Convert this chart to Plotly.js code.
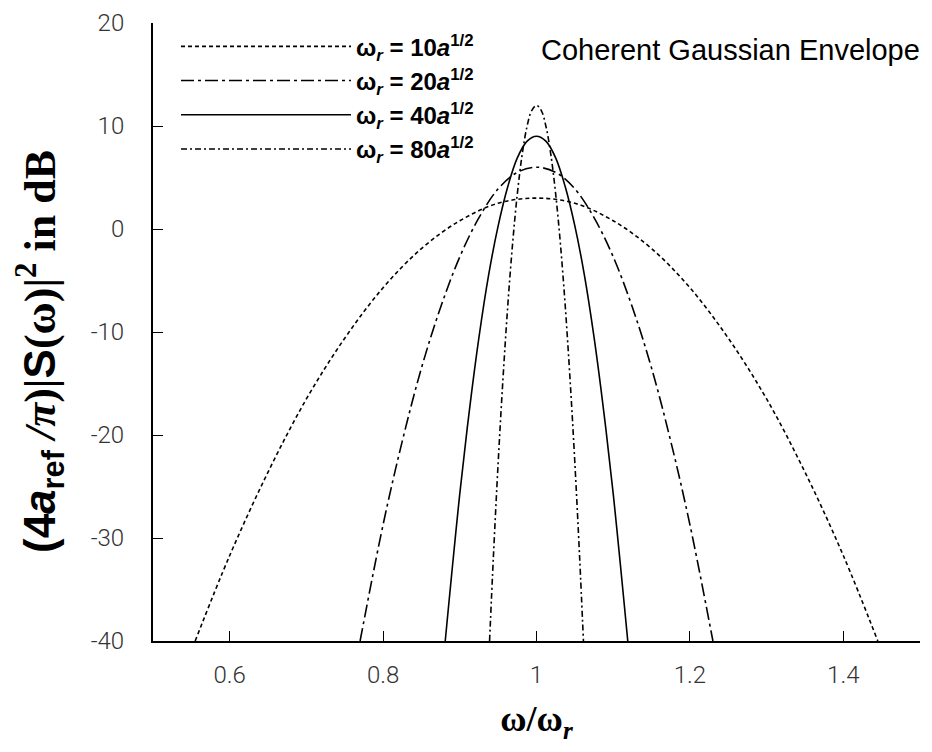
<!DOCTYPE html>
<html>
<head>
<meta charset="utf-8">
<script src="https://cdn.plot.ly/plotly-3.0.1.min.js"></script>
<style>html,body{margin:0;padding:0;background:#fff;}#chart{width:932px;height:752px;}</style>
</head>
<body>
<div id="chart"></div>
<script>
// omega/omega_r and spectral level (dB)
const x10 = [0.555, 0.6, 0.65, 0.7, 0.75, 0.8, 0.85, 0.9, 0.95, 1.0, 1.05, 1.1, 1.15, 1.2, 1.25, 1.3, 1.35, 1.4, 1.445];
const y10 = [-40, -31.7, -23.6, -16.5, -10.6, -5.7, -1.9, 0.8, 2.5, 3.0, 2.5, 0.8, -1.9, -5.7, -10.6, -16.5, -23.6, -31.7, -40];

const x20 = [0.77, 0.8, 0.825, 0.85, 0.875, 0.9, 0.925, 0.95, 0.975, 1.0, 1.025, 1.05, 1.075, 1.1, 1.125, 1.15, 1.175, 1.2, 1.23];
const y20 = [-40, -28.7, -20.6, -13.5, -7.6, -2.7, 1.1, 3.9, 5.5, 6.0, 5.5, 3.9, 1.1, -2.7, -7.6, -13.5, -20.6, -28.7, -40];

const x40 = [0.881, 0.9, 0.9125, 0.925, 0.9375, 0.95, 0.9625, 0.975, 0.9875, 1.0, 1.0125, 1.025, 1.0375, 1.05, 1.0625, 1.075, 1.0875, 1.1, 1.119];
const y40 = [-40, -25.7, -17.6, -10.5, -4.5, 0.3, 4.1, 6.9, 8.5, 9.0, 8.5, 6.9, 4.1, 0.3, -4.5, -10.5, -17.6, -25.7, -40];

const x80 = [0.9388, 0.94375, 0.95, 0.95625, 0.9625, 0.96875, 0.975, 0.98125, 0.9875, 0.99375, 1.0, 1.00625, 1.0125, 1.01875, 1.025, 1.03125, 1.0375, 1.04375, 1.05, 1.05625, 1.0612];
const y80 = [-40, -31.9, -22.7, -14.6, -7.5, -1.5, 3.4, 7.2, 9.9, 11.5, 12.0, 11.5, 9.9, 7.2, 3.4, -1.5, -7.5, -14.6, -22.7, -31.9, -40];

const seriesNames = [
  '<b>ω<sub><i>r</i></sub> = 10<i>a</i><sup>1/2</sup></b>',
  '<b>ω<sub><i>r</i></sub> = 20<i>a</i><sup>1/2</sup></b>',
  '<b>ω<sub><i>r</i></sub> = 40<i>a</i><sup>1/2</sup></b>',
  '<b>ω<sub><i>r</i></sub> = 80<i>a</i><sup>1/2</sup></b>'
];
const xTicks = [0.6, 0.8, 1.0, 1.2, 1.4];
const xTickText = ['0.6', '0.8', '1', '1.2', '1.4'];
const yTicks = [-40, -30, -20, -10, 0, 10, 20];
const yTickText = ['-40', '-30', '-20', '-10', '0', '10', '20'];

const dashes = ['4px,3px', '13px,4px,3px,4px', 'solid', '6px,3px,2px,3px'];
const xs = [x10, x20, x40, x80];
const ys = [y10, y20, y40, y80];

const traces = xs.map((xv, i) => ({
  x: xv, y: ys[i], type: 'scatter', mode: 'lines', name: seriesNames[i],
  line: {color: '#000', width: 1.6, dash: dashes[i], shape: 'spline', smoothing: 1},
  hoverinfo: 'skip'
}));

const tickFont = {family: 'Roboto, Liberation Sans, sans-serif', size: 24, color: '#333', weight: 300};

const layout = {
  width: 932, height: 752,
  margin: {l: 153, r: 12, t: 23, b: 111},
  paper_bgcolor: '#fff', plot_bgcolor: '#fff',
  showlegend: true,
  legend: {
    x: 0.03, y: 0.998, xanchor: 'left', yanchor: 'top',
    bgcolor: 'rgba(0,0,0,0)', itemwidth: 170,
    font: {family: 'Liberation Sans, Arial, sans-serif', size: 24, color: '#000'},
    tracegroupgap: 0
  },
  xaxis: {
    range: [0.5, 1.5], tickvals: xTicks, ticktext: xTickText,
    ticks: 'inside', ticklen: 10, tickwidth: 1, tickcolor: '#000',
    showline: true, linewidth: 2, linecolor: '#000', showgrid: false, zeroline: false,
    tickfont: tickFont,
    ticklabelstandoff: 11,
    title: {text: '<b>ω/ω<sub><i>r</i></sub></b>', font: {family: 'Liberation Serif, Times New Roman, serif', size: 36, color: '#000'}, standoff: 18}
  },
  yaxis: {
    range: [-40, 20], tickvals: yTicks, ticktext: yTickText,
    ticks: 'inside', ticklen: 10, tickwidth: 1, tickcolor: '#000',
    showline: true, linewidth: 2, linecolor: '#000', showgrid: false, zeroline: false,
    tickfont: tickFont,
    ticklabelstandoff: 22
  },
  annotations: [{
    xref: 'paper', yref: 'paper', x: 1.003, y: 0.956, xanchor: 'right', yanchor: 'middle',
    text: 'Coherent Gaussian Envelope', showarrow: false,
    font: {family: 'Liberation Sans, Arial, sans-serif', size: 29, color: '#000'}
  }, {
    xref: 'paper', yref: 'paper', x: -0.147, y: 0.468, xanchor: 'center', yanchor: 'middle',
    textangle: -90, showarrow: false,
    text: '<b><span style="font-family:Liberation Sans">(4<i>a</i><sub>ref</sub></span> <i>/π</i>)|<span style="font-family:Liberation Sans">S</span>(ω)|<sup>2</sup> in dB</b>',
    font: {family: 'Liberation Serif, Times New Roman, serif', size: 44, color: '#000'}
  }]
};

Plotly.newPlot('chart', traces, layout, {displayModeBar: false, staticPlot: true});
</script>
</body>
</html>
